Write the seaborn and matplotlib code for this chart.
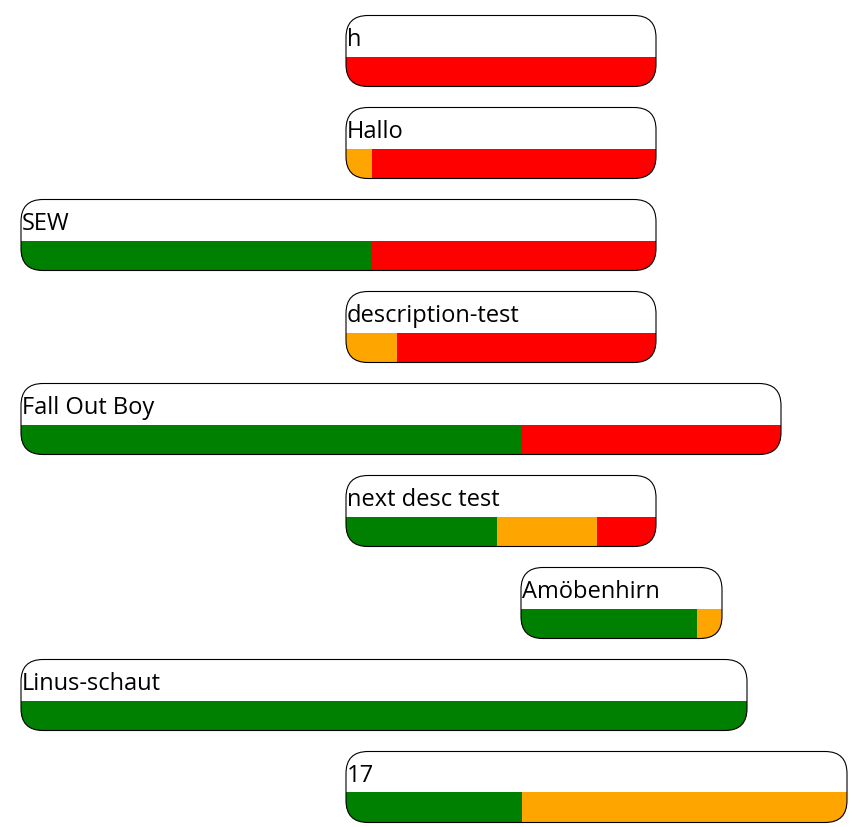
import numpy as np
import pandas as pd
import matplotlib
matplotlib.use("Agg")
import matplotlib.pyplot as plt
import seaborn as sns
from matplotlib.patches import FancyBboxPatch

labels = ["h", "Hallo", "SEW", "description-test", "Fall Out Boy",
          "next desc test", "Amöbenhirn", "Linus-schaut", "17"]
start = [325, 325, 0, 325, 0, 325, 500, 0, 325]
green = [0, 0, 351, 0, 501, 151, 176, 726, 176]
orange = [0, 26, 0, 51, 0, 100, 25, 0, 325]
red = [310, 284, 284, 259, 259, 59, 0, 0, 0]

sns.set_theme(style="white")
plt.rcParams['font.family'] = ['Open Sans', 'DejaVu Sans']

df = pd.DataFrame({"label": labels, "start": start, "green": green,
                   "orange": orange, "red": red})
df["end_green"] = df.start + df.green
df["end_orange"] = df.end_green + df.orange
df["end_red"] = df.end_orange + df.red
df["total"] = df.end_red - df.start

row_pitch = 92
box_top0 = 16.5
box_h = 71
bar_h = 30
radius = 22
df["box_top"] = box_top0 + row_pitch * np.arange(len(df))
df["bar_y"] = df.box_top + box_h - bar_h / 2

fig = plt.figure(figsize=(8.62, 8.28), dpi=100)
ax = fig.add_axes([0, 0, 1, 1])

clips = []
for _, r in df.iterrows():
    c = FancyBboxPatch((r.start, r.box_top), r.total, box_h,
                       boxstyle=f"round,pad=0,rounding_size={radius}",
                       transform=ax.transData, facecolor="none", edgecolor="none")
    clips.append(c)

for col, color in [("end_red", "#ff0000"), ("end_orange", "#ffa500"), ("end_green", "#008000")]:
    n0 = len(ax.patches)
    sns.barplot(data=df, x=col, y="bar_y", orient="h", native_scale=True,
                width=bar_h / row_pitch, color=color, saturation=1,
                linewidth=0, errorbar=None, ax=ax)
    for p in ax.patches[n0:]:
        yc = p.get_y() + p.get_height() / 2
        idx = int(np.argmin(np.abs(df.bar_y.values - yc)))
        p.set_clip_path(clips[idx])

for i, r in df.iterrows():
    ax.add_patch(FancyBboxPatch((r.start, r.box_top), r.total, box_h,
                                boxstyle=f"round,pad=0,rounding_size={radius}",
                                facecolor="none", edgecolor="black", linewidth=0.8,
                                zorder=5))
    ax.text(r.start + 1, r.box_top + 30, r.label, fontsize=17, va="baseline",
            ha="left", color="black", zorder=6)

ax.set_xlim(-21, 841)
ax.set_ylim(828, 0)
ax.axis("off")
fig.savefig("out.png", dpi=100)
